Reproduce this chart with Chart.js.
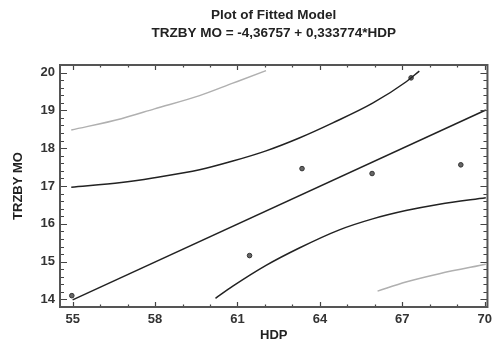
<!DOCTYPE html>
<html>
<head>
<meta charset="utf-8">
<script src="https://cdn.jsdelivr.net/npm/chart.js"></script>
<style>
  body { margin: 0; background: white; }
  #grafico { width: 497px; height: 343px; }
</style>
</head>
<body>
<div id="grafico"><canvas id="myChart"></canvas></div>
<script>
// Pontos observados (HDP, TRZBY MO)
const pontosX = [54.97, 61.44, 63.35, 65.90, 67.32, 69.13];
const pontosY = [14.10, 15.16, 17.46, 17.33, 19.86, 17.56];

// Reta ajustada
const ajusteX = [55.0, 70.04];
const ajusteY = [13.99, 19.01];

// Limites de confiança (preto)
const confSupX = [54.95, 56.77, 57.98, 59.62, 60.83, 62.04, 63.25, 64.47, 65.92, 67.13, 67.62];
const confSupY = [16.97, 17.09, 17.22, 17.43, 17.66, 17.93, 18.27, 18.67, 19.19, 19.75, 20.04];
const confInfX = [60.20, 60.83, 62.04, 63.25, 64.71, 65.92, 67.13, 68.35, 70.04];
const confInfY = [14.03, 14.35, 14.90, 15.36, 15.84, 16.13, 16.35, 16.52, 16.69];

// Limites de predição (cinza)
const predSupX = [54.95, 56.77, 57.98, 59.62, 60.83, 62.04];
const predSupY = [18.48, 18.78, 19.04, 19.39, 19.72, 20.05];
const predInfX = [66.10, 67.13, 68.35, 70.04];
const predInfY = [14.22, 14.46, 14.68, 14.93];

// Rótulos dos eixos
const ticksX = [55, 58, 61, 64, 67, 70];
const ticksY = [14, 15, 16, 17, 18, 19, 20];

function juntar(xs, ys) {
    return xs.map((x, i) => ({ x: x, y: ys[i] }));
}

function linha(xs, ys, cor) {
    return {
        data: juntar(xs, ys),
        showLine: true,
        borderColor: cor,
        borderWidth: 1.5,
        pointRadius: 0,
        cubicInterpolationMode: 'monotone'
    };
}

// Moldura e marcas dos eixos voltadas para dentro
const moldura = {
    id: 'moldura',
    afterDatasetsDraw(chart) {
        const ctx = chart.ctx;
        const area = chart.chartArea;
        const sx = chart.scales.x;
        const sy = chart.scales.y;
        ctx.save();
        ctx.strokeStyle = '#444';
        ctx.lineWidth = 1.2;
        ctx.beginPath();
        for (let v = 55; v <= 70; v++) {
            const px = Math.round(sx.getPixelForValue(v)) + 0.5;
            const len = ticksX.includes(v) ? 5 : 2.5;
            ctx.moveTo(px, area.bottom); ctx.lineTo(px, area.bottom - len);
            ctx.moveTo(px, area.top); ctx.lineTo(px, area.top + len);
        }
        for (let i = 70; i <= 100; i++) {
            const py = Math.round(sy.getPixelForValue(i / 5)) + 0.5;
            const len = i % 5 === 0 ? 7 : 4;
            ctx.moveTo(area.left, py); ctx.lineTo(area.left + len, py);
            ctx.moveTo(area.right, py); ctx.lineTo(area.right - len, py);
        }
        ctx.stroke();
        ctx.lineWidth = 2;
        ctx.strokeStyle = '#555';
        ctx.strokeRect(area.left, area.top, area.right - area.left, area.bottom - area.top);
        ctx.restore();
    }
};

Chart.defaults.font.family = "'Liberation Sans', Arial, sans-serif";

const config = {
    type: 'scatter',
    data: {
        datasets: [
            linha(ajusteX, ajusteY, '#222'),
            linha(confSupX, confSupY, '#222'),
            linha(confInfX, confInfY, '#222'),
            linha(predSupX, predSupY, '#b0b0b0'),
            linha(predInfX, predInfY, '#b0b0b0'),
            {
                data: juntar(pontosX, pontosY),
                pointRadius: 2.3,
                backgroundColor: '#666',
                borderColor: '#333',
                borderWidth: 1
            }
        ]
    },
    options: {
        responsive: true,
        maintainAspectRatio: false,
        animation: false,
        layout: { padding: { left: 0, right: 9, top: 0, bottom: 0 } },
        plugins: {
            legend: { display: false },
            tooltip: { enabled: false },
            title: {
                display: true,
                fullSize: false,
                text: ['Plot of Fitted Model', 'TRZBY MO = -4,36757 + 0,333774*HDP'],
                color: '#222',
                font: { size: 13.5, weight: 'bold', lineHeight: '18px' },
                padding: { top: 6, bottom: 23 }
            }
        },
        scales: {
            x: {
                type: 'linear',
                min: 54.54,
                max: 70.1,
                afterBuildTicks: (s) => { s.ticks = ticksX.map(v => ({ value: v })); },
                afterFit: (s) => { s.height = 36; },
                grid: { display: false, drawTicks: false },
                border: { display: false },
                ticks: { padding: 5, color: '#333', font: { size: 13, weight: 'bold' } },
                title: {
                    display: true, text: 'HDP', color: '#222',
                    font: { size: 13, weight: 'bold' },
                    padding: { top: 0, bottom: 0 }
                }
            },
            y: {
                type: 'linear',
                min: 13.8,
                max: 20.2,
                afterBuildTicks: (s) => { s.ticks = ticksY.map(v => ({ value: v })); },
                afterFit: (s) => { s.width = 60; },
                grid: { display: false, drawTicks: false },
                border: { display: false },
                ticks: { padding: 5, color: '#333', font: { size: 13, weight: 'bold' } },
                title: {
                    display: true, text: 'TRZBY MO', color: '#222',
                    font: { size: 13, weight: 'bold' },
                    padding: { top: 11, bottom: 0 }
                }
            }
        }
    },
    plugins: [moldura]
};

const myChart = new Chart(document.getElementById('myChart').getContext('2d'), config);
</script>
</body>
</html>
